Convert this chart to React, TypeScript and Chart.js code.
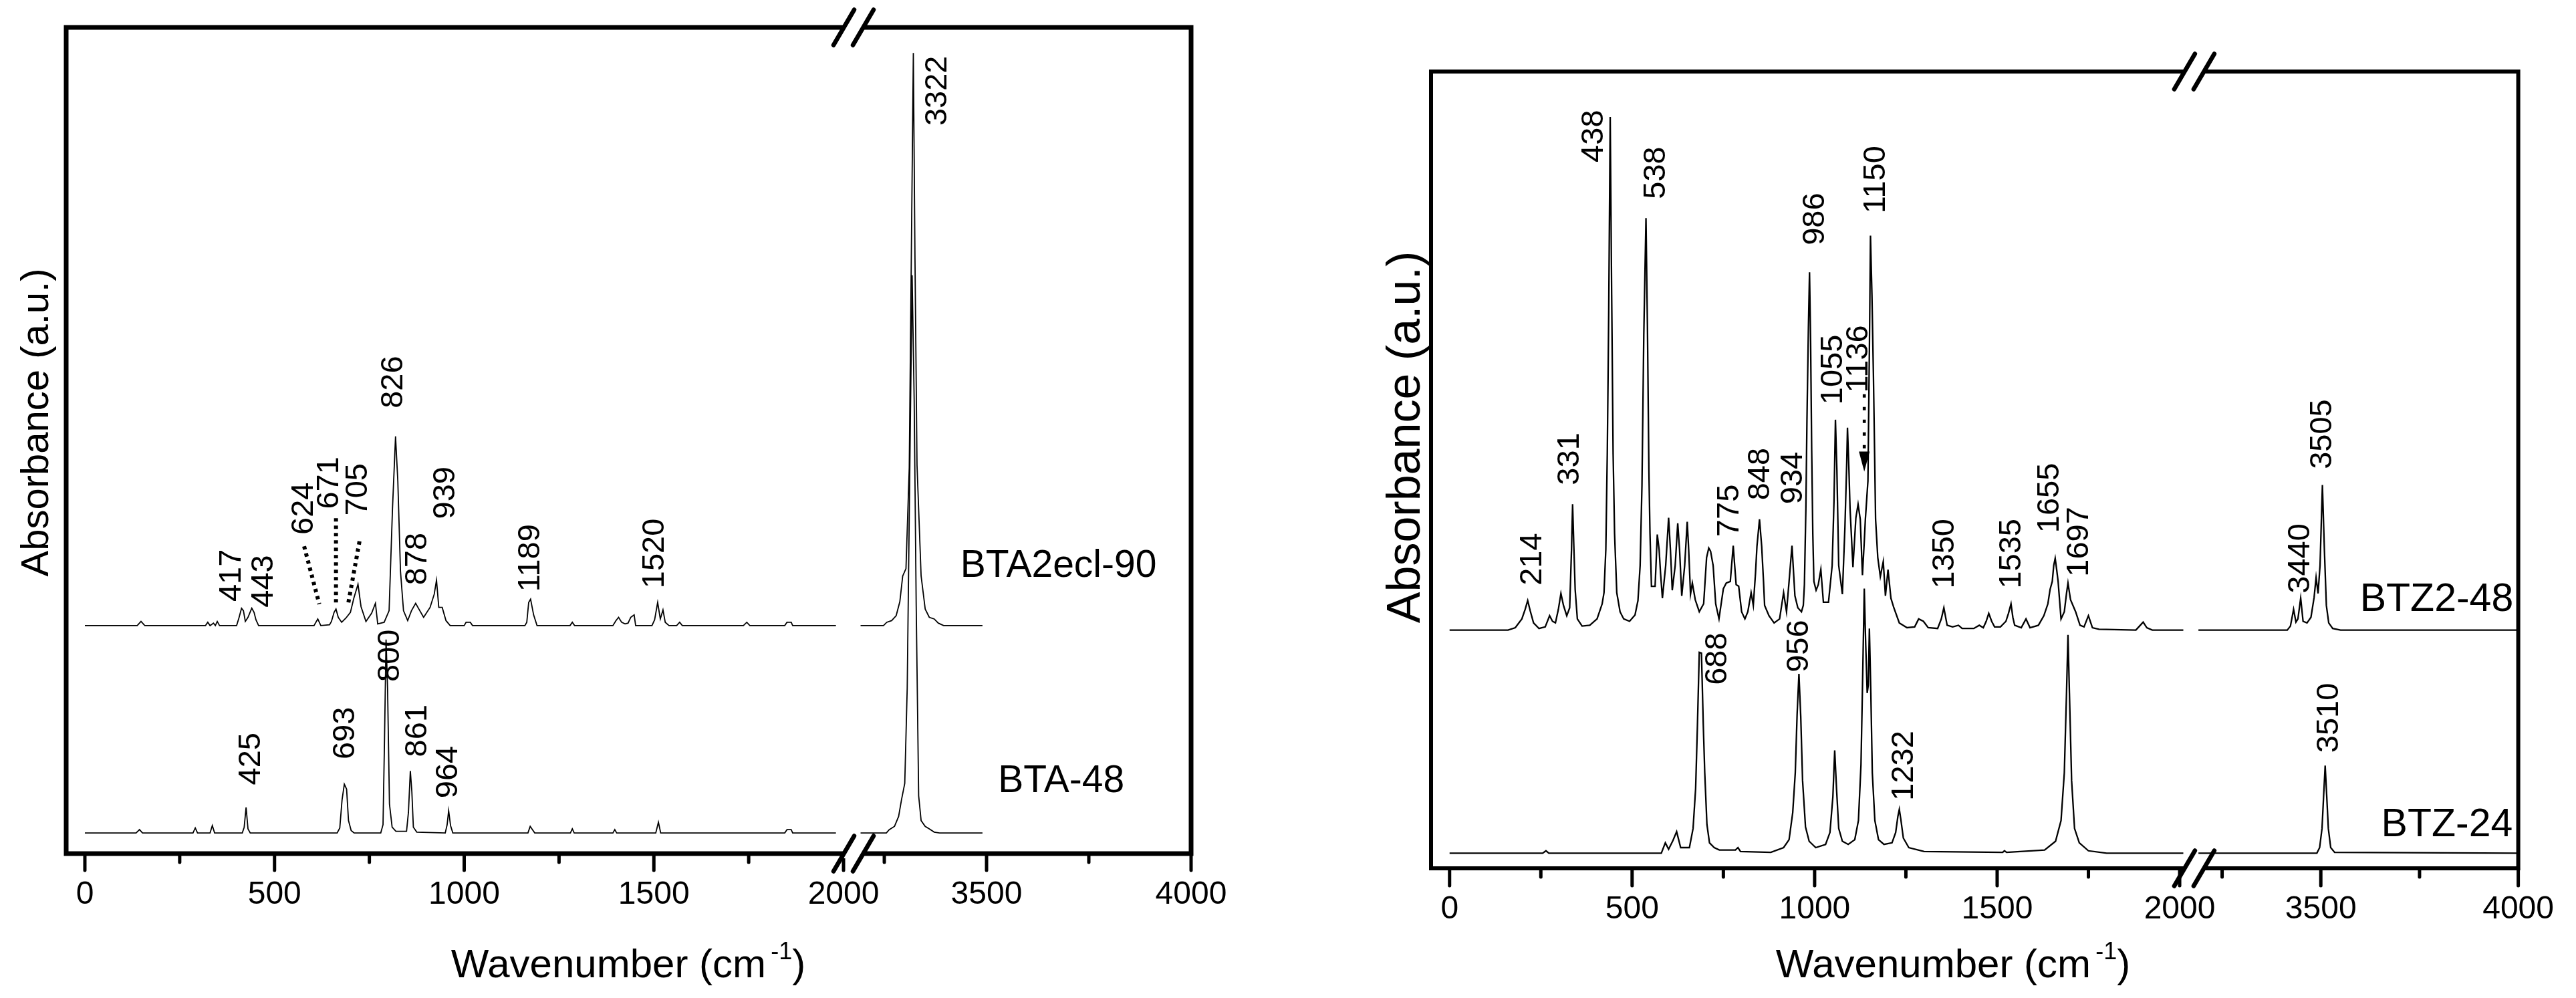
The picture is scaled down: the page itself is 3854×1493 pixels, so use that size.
import React, { useEffect, useRef } from "react";
import { Chart, registerables } from "chart.js";

Chart.register(...registerables);

type Pt = [number, number];
type Label = [number, number, string];
type Seg = [number, number, number, number];

// ---------- Left panel: BTA2ecl-90 (upper) and BTA-48 (lower) ----------
const BTA2ECL90_LOW: Pt[] = [
  [0, 27.6], [138, 27.6], [148, 28.1], [158, 27.6],
  [318, 27.6], [324, 28.0], [330, 27.6], [339, 27.9], [344, 27.6], [349, 28.1], [355, 27.6],
  [400, 27.6], [406, 28.5], [413, 29.7], [418, 29.4], [423, 28.1], [430, 28.6], [440, 29.7], [446, 29.2], [451, 28.3], [458, 27.6],
  [604, 27.6], [614, 28.4], [622, 27.6],
  [645, 27.7], [650, 28.1], [657, 29.2], [662, 29.6], [668, 28.6], [677, 28.0], [688, 28.5], [700, 29.2], [709, 30.9], [720, 32.6],
  [728, 29.9], [741, 28.1], [756, 29.1], [766, 30.3], [772, 27.8], [789, 28.0], [802, 29.4], [811, 41.8], [819, 50.5], [825, 45.1],
  [832, 34.2], [840, 29.4], [851, 28.2], [861, 29.4], [872, 30.3], [878, 29.8], [893, 28.6], [910, 29.8], [921, 31.4], [927, 33.1],
  [933, 29.8], [942, 29.8], [952, 28.2], [963, 27.6],
  [1000, 27.6], [1005, 28.0], [1016, 28.0], [1022, 27.6],
  [1160, 27.6], [1165, 28.0], [1170, 30.4], [1175, 30.8], [1183, 28.9], [1192, 27.6],
  [1279, 27.6], [1285, 28.0], [1291, 27.6],
  [1392, 27.6], [1400, 28.2], [1407, 28.6], [1415, 28.0], [1424, 27.8], [1432, 27.9], [1439, 28.6], [1448, 28.9], [1452, 27.6],
  [1495, 27.6], [1502, 28.3], [1510, 30.4], [1517, 28.4], [1524, 29.5], [1530, 28.0], [1540, 27.6], [1560, 27.6], [1568, 28.0], [1575, 27.6],
  [1736, 27.6], [1745, 28.0], [1753, 27.6],
  [1845, 27.6], [1851, 28.0], [1862, 28.0], [1866, 27.6], [1980, 27.6],
];
const BTA2ECL90_HIGH: Pt[] = [
  [3192, 27.6], [3248, 27.6], [3256, 28.0], [3268, 28.2], [3279, 28.8], [3288, 30.5], [3295, 33.6], [3303, 34.5],
  [3311, 46.7], [3316, 72], [3321, 96.9], [3325, 72], [3330, 47], [3340, 33.6], [3350, 29.6], [3360, 28.6],
  [3372, 28.4], [3382, 27.9], [3395, 27.6], [3490, 27.6],
];
const BTA48_LOW: Pt[] = [
  [0, 2.5], [135, 2.5], [144, 2.9], [152, 2.5],
  [285, 2.5], [291, 3.1], [297, 2.5], [330, 2.5], [336, 3.4], [342, 2.5],
  [415, 2.5], [420, 3.2], [425, 5.6], [430, 3.0], [436, 2.5],
  [665, 2.5], [672, 3.1], [678, 6.5], [684, 8.4], [690, 7.8], [695, 4.0], [702, 2.8], [710, 2.5],
  [780, 2.5], [786, 3.5], [790, 14], [794, 25.9], [798, 20], [803, 6], [810, 3.2], [820, 2.7],
  [848, 2.7], [853, 5], [858, 10.0], [862, 7.5], [866, 3.2], [875, 2.6],
  [950, 2.5], [955, 3.5], [959, 5.2], [964, 3.4], [970, 2.5],
  [1168, 2.5], [1174, 3.3], [1180, 2.9], [1186, 2.5], [1280, 2.5], [1285, 3.0], [1290, 2.5],
  [1392, 2.5], [1397, 2.9], [1402, 2.5], [1505, 2.5], [1512, 3.8], [1518, 2.5],
  [1845, 2.5], [1851, 2.9], [1862, 2.9], [1866, 2.5], [1980, 2.5],
];
const BTA48_HIGH: Pt[] = [
  [3192, 2.5], [3255, 2.5], [3262, 2.9], [3275, 3.3], [3285, 4.5], [3292, 6.5], [3300, 8.5], [3306, 20],
  [3312, 45], [3318, 70], [3323, 55], [3328, 30], [3334, 7], [3340, 4.0], [3350, 3.3], [3360, 3.0],
  [3372, 2.6], [3385, 2.5], [3490, 2.5],
];
const LEFT_PEAK_LABELS: Label[] = [
  [3381, 88.1, "3322"], [815, 53.9, "826"], [952, 40.5, "939"], [878, 32.5, "878"],
  [1175, 31.7, "1189"], [1503, 32.1, "1520"], [387, 30.5, "417"], [472, 29.8, "443"],
  [578, 38.6, "624"], [645, 41.7, "671"], [720, 40.9, "705"],
  [438, 8.3, "425"], [688, 11.4, "693"], [806, 20.8, "800"], [878, 11.7, "861"], [959, 6.7, "964"],
];
const LEFT_LEADERS: Seg[] = [
  [578, 37.2, 618, 30.2],
  [662, 40.6, 662, 30.2],
  [724, 37.8, 694, 30.2],
];
const LEFT_SERIES_NAMES: Label[] = [[3436, 34.8, "BTA2ecl-90"], [3528, 8.7, "BTA-48"]];

// ---------- Right panel: BTZ2-48 (upper) and BTZ-24 (lower) ----------
const BTZ248_LOW: Pt[] = [
  [0, 29.9], [160, 29.9], [180, 30.2], [198, 31.3], [207, 32.5], [214, 33.6], [221, 32.3], [230, 30.8], [245, 30.1],
  [262, 30.3], [274, 31.7], [282, 31.0], [290, 30.8], [298, 32.5], [305, 34.5], [312, 33.0], [321, 31.7], [329, 32.7],
  [334, 40], [337, 45.7], [340, 41], [344, 35], [350, 31.3], [363, 30.4], [384, 30.5], [404, 31.3], [418, 33.2],
  [423, 34.6], [428, 40], [432, 52], [436, 70], [440, 94.3], [444, 72], [448, 52], [452, 42], [458, 34.6],
  [467, 32.2], [477, 31.3], [493, 31.0], [508, 31.8], [516, 33.6], [522, 38], [527, 48], [532, 66.9], [538, 81.6],
  [542, 68], [546, 50], [549, 42], [553, 35.4], [563, 35.4], [569, 41.9], [574, 40], [578, 37], [583, 33.9],
  [592, 38], [600, 44], [605, 40], [610, 34.9], [618, 38], [625, 43.3], [630, 40], [636, 34.2], [644, 38],
  [651, 43.5], [655, 40], [660, 34.4], [665, 35.8], [673, 33.7], [684, 32.2], [696, 33.2], [704, 39], [710, 40.2],
  [715, 39.8], [722, 38], [729, 33.2], [738, 31.3], [750, 35.1], [758, 35.8], [769, 36], [777, 40.5], [781, 38],
  [785, 35.6], [792, 35.4], [800, 32.2], [809, 31.3], [817, 32.2], [826, 34.6], [832, 33], [838, 37], [842, 40.4],
  [849, 43.8], [855, 40.4], [860, 36], [863, 33], [875, 31.7], [889, 30.8], [904, 31.3], [915, 34.6], [923, 32.2],
  [930, 36], [938, 40.5], [946, 34.2], [954, 32.7], [964, 32.2], [969, 33], [972, 35.6], [976, 45], [979, 56.3],
  [983, 68], [986, 74.8], [989, 66], [992, 52.4], [995, 42], [998, 36], [1004, 34.9], [1010, 35.6], [1017, 37.5],
  [1024, 33.4], [1038, 33.4], [1048, 38], [1053, 46], [1057, 56.3], [1061, 50], [1066, 38], [1076, 34.4],
  [1083, 42.8], [1088, 51], [1090, 55.3], [1094, 50], [1097, 45.2], [1105, 37.8], [1113, 44], [1119, 45.7],
  [1125, 43.8], [1131, 36.8], [1136, 41], [1139, 43.8], [1146, 48.6], [1150, 65], [1153, 79.4], [1157, 72],
  [1161, 62.1], [1165, 50], [1167, 43.8], [1173, 39], [1180, 36.6], [1188, 38.5], [1194, 34.2], [1201, 37.5],
  [1209, 33.9], [1217, 32.7], [1232, 30.8], [1253, 30.2], [1274, 30.3], [1285, 31.3], [1298, 31], [1311, 30.2],
  [1337, 30.1], [1347, 31.3], [1354, 32.7], [1363, 30.5], [1378, 30.3], [1394, 30.5], [1404, 30.1], [1436, 30.1],
  [1451, 30.5], [1462, 30.2], [1470, 31], [1477, 32], [1485, 31], [1493, 30.3], [1509, 30.3], [1524, 31],
  [1531, 32], [1538, 33.2], [1543, 31.5], [1548, 30.5], [1566, 30.2], [1579, 31.3], [1590, 30.2], [1613, 30.5],
  [1628, 31.7], [1639, 33.2], [1645, 35], [1651, 36], [1655, 38], [1659, 38.9], [1663, 37.5], [1667, 36],
  [1675, 31.3], [1684, 32.2], [1690, 34.5], [1694, 35.8], [1701, 33.7], [1715, 32.2], [1727, 30.5], [1738, 30.3],
  [1750, 31.7], [1761, 30.2], [1779, 30.0], [1880, 29.9], [1890, 30.4], [1900, 30.9], [1910, 30.2], [1925, 29.9],
  [2010, 29.9],
];
const BTZ248_HIGH: Pt[] = [
  [3190, 29.9], [3415, 29.9], [3423, 30.4], [3431, 32.5], [3437, 30.9], [3442, 31.3], [3449, 33.9], [3455, 31.0],
  [3465, 30.8], [3475, 31.5], [3483, 34], [3488, 36.5], [3493, 34.5], [3498, 38], [3504, 48.1], [3509, 40],
  [3514, 33], [3520, 30.8], [3530, 30.1], [3550, 29.9], [4000, 29.9],
];
const BTZ24_LOW: Pt[] = [
  [0, 1.9], [255, 1.9], [264, 2.2], [272, 1.9], [580, 1.9], [591, 3.2], [600, 2.4], [612, 3.5], [622, 4.6],
  [633, 2.6], [657, 2.6], [667, 5], [674, 10], [679, 18], [684, 27.1], [690, 27.0], [695, 18], [699, 12],
  [705, 5.5], [712, 3.2], [725, 2.6], [739, 2.3], [783, 2.3], [790, 2.6], [797, 2.1], [880, 2.0], [915, 2.6],
  [930, 3.6], [940, 7], [947, 12], [952, 19.3], [957, 24.4], [962, 19], [967, 11], [975, 5.2], [985, 3.4],
  [1003, 2.6], [1030, 3.0], [1042, 4.5], [1050, 9], [1055, 14.8], [1060, 10], [1066, 5], [1076, 3.4], [1092, 3.0],
  [1110, 3.6], [1120, 6], [1127, 13], [1132, 25], [1136, 35.1], [1140, 28], [1144, 22], [1147, 23], [1150, 30.1],
  [1154, 22], [1158, 12], [1165, 6], [1175, 3.6], [1190, 3.0], [1212, 3.2], [1222, 4.5], [1228, 6.5], [1232, 7.4],
  [1236, 6.2], [1243, 3.8], [1258, 2.6], [1300, 2.1], [1515, 2.0], [1520, 2.2], [1526, 2.0], [1630, 2.3],
  [1660, 3.4], [1675, 6], [1684, 12], [1690, 22], [1694, 29.3], [1698, 22], [1704, 11], [1712, 5], [1725, 3.2],
  [1750, 2.2], [1800, 1.9], [2010, 1.9],
];
const BTZ24_HIGH: Pt[] = [
  [3190, 1.9], [3490, 1.9], [3497, 2.6], [3503, 5], [3507, 9], [3511, 12.9], [3515, 9], [3519, 5], [3525, 2.6],
  [3535, 2.0], [4000, 1.9],
];
const RIGHT_PEAK_LABELS: Label[] = [
  [227, 35.5, "214"], [330, 48.1, "331"], [396, 88.6, "438"], [566, 84.0, "538"], [767, 41.6, "775"],
  [852, 46.2, "848"], [941, 45.7, "934"], [1003, 78.2, "986"], [1052, 58.2, "1055"], [1122, 59.7, "1136"],
  [1168, 82.2, "1150"], [1357, 35.1, "1350"], [1540, 35.1, "1535"], [1644, 42.1, "1655"], [1725, 36.6, "1697"],
  [3449, 34.5, "3440"], [3505, 50.1, "3505"],
  [734, 23.0, "688"], [958, 24.6, "956"], [1246, 8.5, "1232"], [3521, 14.5, "3510"],
];
const RIGHT_ARROWS: Seg[] = [[1136, 59.5, 1136, 49.8]];
const RIGHT_SERIES_NAMES: Label[] = [[3599, 33.7, "BTZ2-48"], [3653, 5.4, "BTZ-24"]];

// ---------- Axes ----------
const TICK_STEP = 250;
const LABEL_STEP = 500;
const Y_RANGE: [number, number] = [0, 100];
const X_TITLE_MAIN = "Wavenumber (cm";
const X_TITLE_SUP = "-1";
const X_TITLE_END = ")";
const Y_TITLE = "Absorbance (a.u.)";

const FONT = "'Liberation Sans', Arial, Helvetica, sans-serif";

interface Panel {
  canvasW: number;
  padLeft: number;
  padRight: number;
  padTop: number;
  axisH: number;
  low: [number, number];
  high: [number, number];
  lowWeight: number;
  highWeight: number;
  series: { name: string; low: Pt[]; high: Pt[] }[];
  lineW: number;
  frameW: number;
  peakLabels: Label[];
  names: Label[];
  leaders: Seg[];
  arrows: Seg[];
  peakFont: number;
  nameFont: number;
  tickFont: number;
  yTitle: { x: number; y: number; size: number };
  xTitle: { x: number; y: number; size: number };
  tickLen: number;
  minorLen: number;
  tickW: number;
}

const LEFT_PANEL: Panel = {
  canvasW: 1930,
  padLeft: 99,
  padRight: 148,
  padTop: 41,
  axisH: 216,
  low: [-49.3, 2026.4],
  high: [3174.8, 4000],
  lowWeight: 1178,
  highWeight: 505,
  series: [
    { name: "BTA2ecl-90", low: BTA2ECL90_LOW, high: BTA2ECL90_HIGH },
    { name: "BTA-48", low: BTA48_LOW, high: BTA48_HIGH },
  ],
  lineW: 1.8,
  frameW: 7,
  peakLabels: LEFT_PEAK_LABELS,
  names: LEFT_SERIES_NAMES,
  leaders: LEFT_LEADERS,
  arrows: [],
  peakFont: 47,
  nameFont: 57,
  tickFont: 48,
  yTitle: { x: 56, y: 632, size: 58 },
  xTitle: { x: 940, y: 1440, size: 60 },
  tickLen: 25,
  minorLen: 13,
  tickW: 5,
};

const RIGHT_PANEL: Panel = {
  canvasW: 1924,
  padLeft: 211,
  padRight: 72,
  padTop: 107,
  axisH: 194,
  low: [-50.8, 2040],
  high: [3179.5, 4000],
  lowWeight: 1152,
  highWeight: 489,
  series: [
    { name: "BTZ2-48", low: BTZ248_LOW, high: BTZ248_HIGH },
    { name: "BTZ-24", low: BTZ24_LOW, high: BTZ24_HIGH },
  ],
  lineW: 2.3,
  frameW: 6,
  peakLabels: RIGHT_PEAK_LABELS,
  names: RIGHT_SERIES_NAMES,
  leaders: [],
  arrows: RIGHT_ARROWS,
  peakFont: 47,
  nameFont: 59,
  tickFont: 48,
  yTitle: { x: 175, y: 654, size: 70 },
  xTitle: { x: 992, y: 1440, size: 60 },
  tickLen: 26,
  minorLen: 13,
  tickW: 5,
};

function makeDecor(p: Panel) {
  return {
    id: "decor",
    afterDraw(chart: any) {
      const { ctx, chartArea: a } = chart;
      const sLow = chart.scales.xLow;
      const sHigh = chart.scales.xHigh;
      const sY = chart.scales.y;
      const px = (w: number) => (w > 2100 ? sHigh : sLow).getPixelForValue(w);
      const py = (v: number) => sY.getPixelForValue(v);
      ctx.save();
      ctx.strokeStyle = "#000";
      ctx.fillStyle = "#000";

      // ticks (outward, below the frame)
      ctx.lineCap = "round";
      ctx.lineWidth = p.tickW;
      for (const s of [sLow, sHigh]) {
        for (const t of s.ticks) {
          const v = t.value;
          if (v < s.min || v > s.max) continue;
          const x = s.getPixelForValue(v);
          const len = v % LABEL_STEP === 0 ? p.tickLen : p.minorLen;
          ctx.beginPath();
          ctx.moveTo(x, a.bottom);
          ctx.lineTo(x, a.bottom + len);
          ctx.stroke();
        }
      }

      // frame
      ctx.lineCap = "butt";
      ctx.lineWidth = p.frameW;
      ctx.strokeRect(a.left, a.top, a.right - a.left, a.bottom - a.top);

      // axis break marks
      const xb = sLow.right;
      const off = 14.5;
      for (const yb of [a.top, a.bottom]) {
        ctx.fillStyle = "#fff";
        ctx.fillRect(xb - off, yb - p.frameW, off * 2, p.frameW * 2);
        ctx.fillStyle = "#000";
        ctx.lineWidth = 6.5;
        ctx.lineCap = "round";
        for (const cx of [xb - off, xb + off]) {
          ctx.beginPath();
          ctx.moveTo(cx - 15.5, yb + 26.5);
          ctx.lineTo(cx + 15.5, yb - 26.5);
          ctx.stroke();
        }
      }

      // peak labels (rotated)
      ctx.fillStyle = "#000";
      ctx.font = `${p.peakFont}px ${FONT}`;
      ctx.textAlign = "left";
      ctx.textBaseline = "middle";
      for (const [w, v, text] of p.peakLabels) {
        ctx.save();
        ctx.translate(px(w), py(v));
        ctx.rotate(-Math.PI / 2);
        ctx.fillText(text, 0, 0);
        ctx.restore();
      }

      // dotted leaders
      ctx.lineWidth = 6;
      ctx.lineCap = "butt";
      ctx.setLineDash([5, 6]);
      for (const [w1, v1, w2, v2] of p.leaders) {
        ctx.beginPath();
        ctx.moveTo(px(w1), py(v1));
        ctx.lineTo(px(w2), py(v2));
        ctx.stroke();
      }
      // dotted arrows
      for (const [w1, v1, w2, v2] of p.arrows) {
        const x1 = px(w1), y1 = py(v1), x2 = px(w2), y2 = py(v2);
        const head = 30;
        ctx.lineWidth = 4.6;
        ctx.setLineDash([5, 14]);
        ctx.beginPath();
        ctx.moveTo(x1, y1);
        ctx.lineTo(x2, y2 - head);
        ctx.stroke();
        ctx.setLineDash([]);
        ctx.beginPath();
        ctx.moveTo(x2 - 8, y2 - head);
        ctx.lineTo(x2 + 8, y2 - head);
        ctx.lineTo(x2, y2);
        ctx.closePath();
        ctx.fill();
      }
      ctx.setLineDash([]);

      // series names
      ctx.font = `${p.nameFont}px ${FONT}`;
      ctx.textAlign = "left";
      ctx.textBaseline = "middle";
      for (const [w, v, text] of p.names) {
        ctx.fillText(text, px(w), py(v));
      }

      // y title
      ctx.save();
      ctx.font = `${p.yTitle.size}px ${FONT}`;
      ctx.textAlign = "center";
      ctx.textBaseline = "middle";
      ctx.translate(p.yTitle.x, p.yTitle.y);
      ctx.rotate(-Math.PI / 2);
      ctx.fillText(Y_TITLE, 0, 0);
      ctx.restore();

      // x title with superscript
      const size = p.xTitle.size;
      const supSize = Math.round(size * 0.6);
      ctx.font = `${size}px ${FONT}`;
      const w1 = ctx.measureText(X_TITLE_MAIN).width;
      const w3 = ctx.measureText(X_TITLE_END).width;
      ctx.font = `${supSize}px ${FONT}`;
      const w2 = ctx.measureText(X_TITLE_SUP).width;
      const gap = size * 0.12;
      let x = p.xTitle.x - (w1 + gap + w2 + w3) / 2;
      const base = p.xTitle.y + size * 0.36;
      ctx.textAlign = "left";
      ctx.textBaseline = "alphabetic";
      ctx.font = `${size}px ${FONT}`;
      ctx.fillText(X_TITLE_MAIN, x, base);
      x += w1 + gap;
      ctx.font = `${supSize}px ${FONT}`;
      ctx.fillText(X_TITLE_SUP, x, base - size * 0.45);
      x += w2;
      ctx.font = `${size}px ${FONT}`;
      ctx.fillText(X_TITLE_END, x, base);

      ctx.restore();
    },
  };
}

function buildConfig(p: Panel): any {
  const datasets: any[] = [];
  for (const s of p.series) {
    for (const [seg, axis] of [[s.low, "xLow"], [s.high, "xHigh"]] as [Pt[], string][]) {
      datasets.push({
        label: s.name,
        data: seg.map(([x, y]) => ({ x, y })),
        xAxisID: axis,
        yAxisID: "y",
        borderColor: "#000",
        borderWidth: p.lineW,
        pointRadius: 0,
        tension: 0,
        fill: false,
      });
    }
  }
  const xAxis = (range: [number, number], weight: number) => ({
    type: "linear",
    axis: "x",
    position: "bottom",
    stack: "wn",
    stackWeight: weight,
    min: range[0],
    max: range[1],
    grid: { display: false, drawTicks: false, tickLength: 0 },
    border: { display: false },
    ticks: {
      stepSize: TICK_STEP,
      includeBounds: false,
      autoSkip: false,
      maxRotation: 0,
      minRotation: 0,
      padding: 33,
      color: "#000",
      font: { family: FONT, size: p.tickFont },
      callback: (v: number) => (v % LABEL_STEP === 0 ? String(v) : ""),
    },
    afterFit: (scale: any) => {
      scale.height = p.axisH;
    },
  });
  return {
    type: "line",
    data: { datasets },
    options: {
      responsive: false,
      animation: false,
      devicePixelRatio: 1,
      events: [],
      layout: { padding: { left: p.padLeft, right: p.padRight, top: p.padTop, bottom: 0 } },
      plugins: { legend: { display: false }, tooltip: { enabled: false }, title: { display: false } },
      scales: {
        xLow: xAxis(p.low, p.lowWeight),
        xHigh: xAxis(p.high, p.highWeight),
        y: { type: "linear", min: Y_RANGE[0], max: Y_RANGE[1], display: false },
      },
    },
    plugins: [makeDecor(p)],
  };
}

export default function App() {
  const leftRef = useRef<HTMLCanvasElement>(null);
  const rightRef = useRef<HTMLCanvasElement>(null);
  useEffect(() => {
    const c1 = new Chart(leftRef.current as HTMLCanvasElement, buildConfig(LEFT_PANEL));
    const c2 = new Chart(rightRef.current as HTMLCanvasElement, buildConfig(RIGHT_PANEL));
    return () => {
      c1.destroy();
      c2.destroy();
    };
  }, []);
  return (
    <div style={{ position: "absolute", left: 0, top: 0, width: 3854, height: 1493, background: "#fff" }}>
      <canvas
        ref={leftRef}
        width={LEFT_PANEL.canvasW}
        height={1493}
        style={{ position: "absolute", left: 0, top: 0, width: LEFT_PANEL.canvasW, height: 1493 }}
      />
      <canvas
        ref={rightRef}
        width={RIGHT_PANEL.canvasW}
        height={1493}
        style={{ position: "absolute", left: LEFT_PANEL.canvasW, top: 0, width: RIGHT_PANEL.canvasW, height: 1493 }}
      />
    </div>
  );
}
